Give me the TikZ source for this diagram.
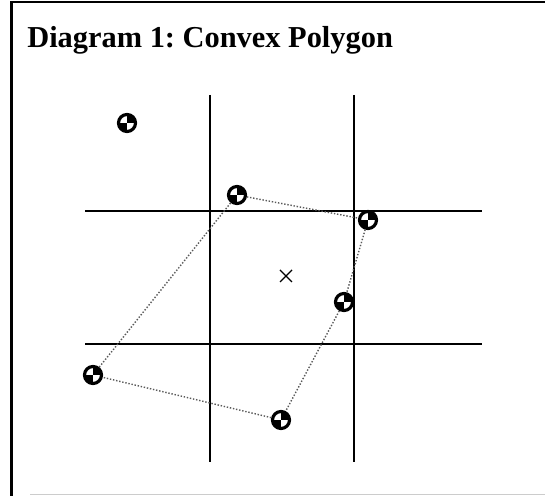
\documentclass[tikz,border=0pt]{standalone}
\usepackage{fontspec}
\setmainfont{Liberation Serif}
\usetikzlibrary{calc}
\frenchspacing
\tikzset{
  mass/.style={circle, draw, fill=black, line width=1.8pt, minimum size=0.34cm, inner sep=0pt,
    path picture={
      \fill[white] (path picture bounding box.center) rectangle (path picture bounding box.north west);
      \fill[white] (path picture bounding box.center) rectangle (path picture bounding box.south east);
    }},
  hull/.style={densely dotted, gray!70!black, line width=0.8pt},
  grid line/.style={line width=0.6pt}
}
\begin{document}
\begin{tikzpicture}[x=0.02cm, y=-0.02cm]
 \useasboundingbox (0,0) rectangle (545,496);
 % frame
 \draw[line width=1.2pt] (11.5,496) -- (11.5,2) -- (545,2);
 \draw[gray!40] (30,494) -- (545,494);
 \node[font=\bfseries\fontsize{17.3}{20}\selectfont, anchor=west, inner sep=0pt] (title) at (27,40) {Diagram 1: Convex Polygon};
 % grid
 \coordinate (vt1) at (210,95);  \coordinate (vb1) at (210,462);
 \coordinate (vt2) at (354,95);  \coordinate (vb2) at (354,462);
 \coordinate (hl1) at (85,211);  \coordinate (hr1) at (482,211);
 \coordinate (hl2) at (85,344);  \coordinate (hr2) at (482,344);
 \draw[grid line] (vt1) -- (vb1);
 \draw[grid line] (vt2) -- (vb2);
 \draw[grid line] (hl1) -- (hr1);
 \draw[grid line] (hl2) -- (hr2);
 % points
 \node[mass] (p0) at (127,123) {};
 \node[mass] (p1) at (237,195) {};
 \node[mass] (p2) at (368,220) {};
 \node[mass] (p3) at (344,302) {};
 \node[mass] (p4) at (281,420) {};
 \node[mass] (p5) at (93,375) {};
 % centre
 \coordinate (c) at (286,276);
 \draw[line width=0.8pt] ($(c)+(-6,-6)$) -- ($(c)+(6,6)$) ($(c)+(-6,6)$) -- ($(c)+(6,-6)$);
 % hull
 \draw[hull] (p1) -- (p2);
 \draw[hull] (p2) -- (p3);
 \draw[hull] (p3) -- (p4);
 \draw[hull] (p4) -- (p5);
 \draw[hull] (p5) -- (p1);
\end{tikzpicture}
\end{document}
